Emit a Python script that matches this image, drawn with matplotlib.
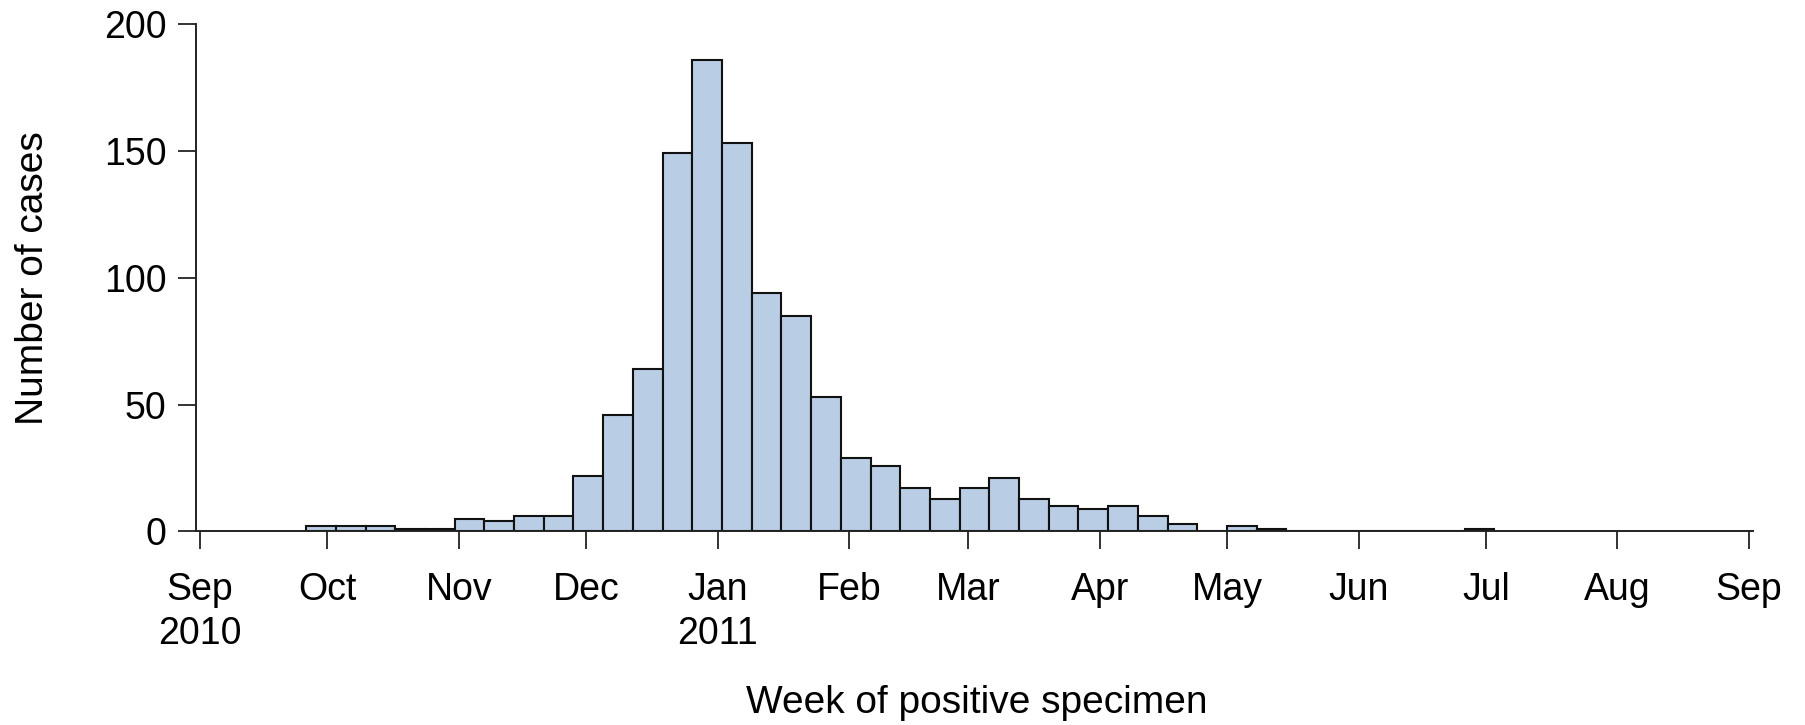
"""
Weekly cases by week of positive specimen, Sep 2010 - Sep 2011
"""
import matplotlib
matplotlib.use("Agg")
import matplotlib.pyplot as plt
import pandas as pd


FIRST_WEEK = "2010-09-26"
CASES = [
    2, 2, 2, 1, 1, 5, 4, 6, 6, 22,
    46, 64, 149, 186, 153, 94, 85, 53, 29, 26,
    17, 13, 17, 21, 13, 10, 9, 10, 6, 3,
    0, 2, 1, 0, 0, 0, 0, 0, 0, 1,
]
MONTH_TICKS = pd.date_range("2010-09-01", "2011-09-01", freq="MS")
MONTH_LABELS = [
    "Sep\n2010", "Oct", "Nov", "Dec", "Jan\n2011", "Feb", "Mar",
    "Apr", "May", "Jun", "Jul", "Aug", "Sep",
]
Y_TICKS = [0, 50, 100, 150, 200]

plt.rcParams["font.family"] = ["Liberation Sans", "DejaVu Sans"]

weeks = pd.date_range(FIRST_WEEK, periods=len(CASES), freq="7D")

fig = plt.figure(figsize=(18.06, 7.25), dpi=100)
ax = fig.add_axes([0.1084, 0.2669, 0.8624, 0.7000])

ax.bar(weeks, CASES, width=7, align="edge", color="#b9cde5",
       edgecolor="#111111", linewidth=1.5, zorder=2)

ax.set_xlim(pd.Timestamp("2010-08-31"), pd.Timestamp("2011-09-02"))
ax.set_ylim(0, 200)
ax.set_xticks(MONTH_TICKS)
ax.set_xticklabels(MONTH_LABELS, fontsize=27, linespacing=1.3)
ax.set_yticks(Y_TICKS)
ax.set_yticklabels([str(v) for v in Y_TICKS], fontsize=27)

for side in ("top", "right"):
    ax.spines[side].set_visible(False)
for side in ("left", "bottom"):
    ax.spines[side].set_linewidth(1.4)
    ax.spines[side].set_color("#222222")

ax.tick_params(axis="both", direction="out", length=13, width=1.3,
               color="#222222")
ax.tick_params(axis="x", pad=16)
ax.tick_params(axis="y", pad=8)

fig.text(0.541, 0.030, "Week of positive specimen", fontsize=28,
         ha="center", va="center")
fig.text(0.018, 0.617, "Number of cases", fontsize=28, rotation=90,
         ha="center", va="center")

fig.savefig("out.png", dpi=100)
